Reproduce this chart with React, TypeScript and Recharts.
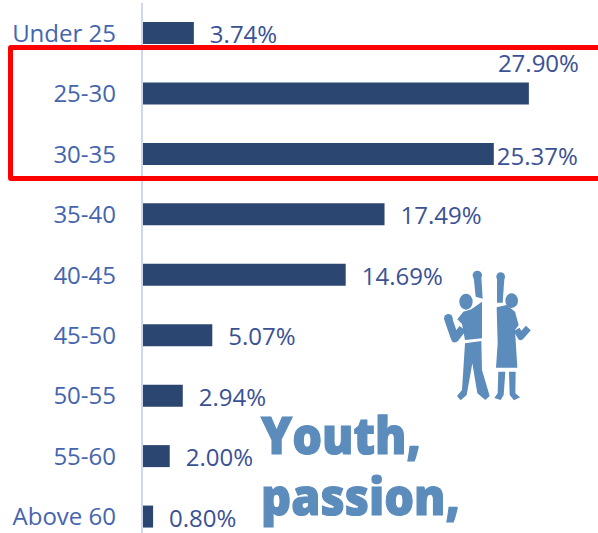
import React from 'react';
import { BarChart, Bar, XAxis, YAxis, LabelList } from 'recharts';

const ageGroups = ['Under 25', '25-30', '30-35', '35-40', '40-45', '45-50', '50-55', '55-60', 'Above 60'];
const shares = [3.74, 27.9, 25.37, 17.49, 14.69, 5.07, 2.94, 2.0, 0.8];

const chartData = ageGroups.map((age, i) => ({ age, share: shares[i] }));

const FONT = '"Open Sans", "Noto Sans", sans-serif';

// labels sit just right of the bar, except the two inside the red box
const ValueLabel = (props: any) => {
    const { x, y, width, height, index } = props;
    const right = x + width;
    const mid = y + height / 2;
    let lx = right + 16;
    let ly = mid + 10;
    if (index === 1) {
        lx = right - 31;
        ly = mid - 21;
    }
    if (index === 2) {
        lx = right + 3;
        ly = mid + 11;
    }
    return (
        <text x={lx} y={ly} fill="#3b5195" fontSize={24} fontFamily={FONT}>
            {shares[index].toFixed(2)}%
        </text>
    );
};

const People = () => (
    <svg width={348} height={273} viewBox="0 0 1044 819" style={{ position: 'absolute', left: 250, top: 260 }}>
        <g fill="#5b8cbb">
            <circle cx={682} cy={46} r={14} />
            <polygon points="671,52 694,52 698,116 677,110" />
            <ellipse cx={648} cy={125} rx={20} ry={24} />
            <polygon points="696,125 696,235 645,240 636,192 622,178 640,155 664,148" />
            <polygon points="645,250 694,243 696,330 719,408 706,420 682,400 667,310 650,405 632,421 621,408 636,390" />
            <circle cx={595} cy={175} r={13} />
            <circle cx={752} cy={50} r={13} />
            <polygon points="741,56 763,56 758,128 741,128" />
            <ellipse cx={785} cy={122} rx={19} ry={22} />
            <polygon points="740,142 770,135 795,155 806,195 795,210 802,323 738,323 743,250" />
            <polygon points="745,335 766,335 761,405 752,420 733,414 743,400" />
            <polygon points="777,335 797,335 796,400 810,412 792,421 779,405" />
        </g>
        <polyline points="595,178 615,235 638,205" fill="none" stroke="#5b8cbb" strokeWidth={24} strokeLinejoin="round" />
        <polyline points="800,208 812,230 835,204" fill="none" stroke="#5b8cbb" strokeWidth={20} strokeLinejoin="round" />
    </svg>
);

const Slogan = () => (
    <svg width={598} height={533} style={{ position: 'absolute', left: 0, top: 0 }}>
        <g fill="#5b8cbb" stroke="#5b8cbb" strokeWidth={1.2} fontFamily={FONT} fontWeight={800} fontSize={52}>
            <text x={261} y={454} textLength={160} lengthAdjust="spacingAndGlyphs">Youth,</text>
            <text x={261} y={515} textLength={199} lengthAdjust="spacingAndGlyphs">passion,</text>
        </g>
    </svg>
);

export default function App() {
    return (
        <div style={{ position: 'absolute', left: 0, top: 0, width: 598, height: 533, overflow: 'hidden', background: '#fff' }}>
            <BarChart
                width={598}
                height={547}
                data={chartData}
                layout="vertical"
                barCategoryGap={19}
                margin={{ top: 3, right: 40, bottom: 0, left: 0 }}
            >
                <XAxis type="number" domain={[0, 30]} hide />
                <YAxis
                    type="category"
                    dataKey="age"
                    width={142}
                    interval={0}
                    tickLine={false}
                    tickMargin={20}
                    axisLine={{ stroke: '#cdd8ee', strokeWidth: 2 }}
                    tick={{ fill: '#4565ae', fontSize: 24, fontFamily: FONT }}
                />
                <Bar dataKey="share" fill="#2c4672" isAnimationActive={false}>
                    <LabelList dataKey="share" content={<ValueLabel />} />
                </Bar>
            </BarChart>
            <div
                style={{
                    position: 'absolute',
                    left: 8,
                    top: 45,
                    width: 620,
                    height: 136,
                    boxSizing: 'border-box',
                    border: '5px solid #ff0000',
                    borderRadius: 3,
                }}
            />
            <People />
            <Slogan />
        </div>
    );
}
